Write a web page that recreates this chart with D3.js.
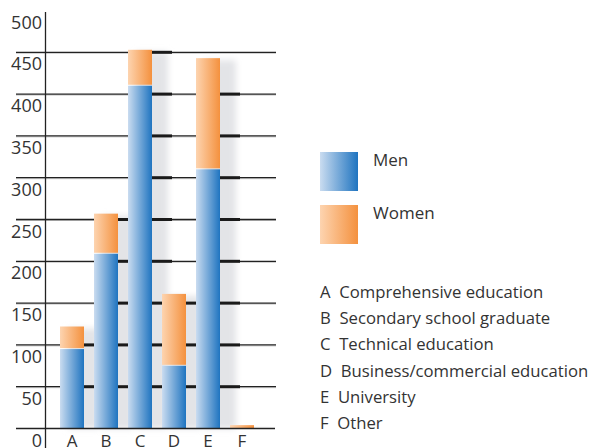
<!DOCTYPE html>
<html>
<head>
<meta charset="utf-8">
<script src="https://cdn.jsdelivr.net/npm/d3@7"></script>
<style>
  html, body { margin: 0; padding: 0; background: #fff; }
  svg { display: block; font-family: "Open Sans", "Noto Sans", sans-serif; }
</style>
</head>
<body>
<svg id="chart" width="592" height="448"></svg>
<script>
// Education level of staff, split by gender
const categories = ["A", "B", "C", "D", "E", "F"];
const men   = [95, 209, 410, 75, 310, 0];
const women = [27, 48, 43, 86, 133, 4];
const yTicks = [0, 50, 100, 150, 200, 250, 300, 350, 400, 450, 500];
const seriesNames = ["Men", "Women"];
const categoryNames = [
  "Comprehensive education",
  "Secondary school graduate",
  "Technical education",
  "Business/commercial education",
  "University",
  "Other"
];

const svg = d3.select("#chart");
const textColor = "#333";

const y = d3.scaleLinear().domain([0, 500]).range([428.5, 10.5]);
const x = d3.scaleBand().domain(categories).range([55, 259])
  .paddingInner(10 / 34).paddingOuter(5 / 34);

const defs = svg.append("defs");
function hGrad(id, c0, c1) {
  const g = defs.append("linearGradient").attr("id", id)
    .attr("x1", "0%").attr("x2", "100%").attr("y1", "0%").attr("y2", "0%");
  g.append("stop").attr("offset", "0%").attr("stop-color", c0);
  g.append("stop").attr("offset", "100%").attr("stop-color", c1);
}
hGrad("gMen", "#cadcf0", "#1f74c0");
hGrad("gWomen", "#fdd4b0", "#f4913e");
defs.append("filter").attr("id", "soft")
  .attr("x", "-50%").attr("y", "-20%").attr("width", "200%").attr("height", "140%")
  .append("feGaussianBlur").attr("stdDeviation", 3);

const totals = categories.map((c, i) => men[i] + women[i]);

// soft shadows to the right of each bar
svg.append("g").selectAll("rect").data(categories).join("rect")
  .attr("x", d => x(d) + 8)
  .attr("y", (d, i) => y(totals[i]) + 2)
  .attr("width", x.bandwidth() + 8)
  .attr("height", (d, i) => Math.max(0, y(0) - y(totals[i]) - 2))
  .attr("fill", "#e3e4e7")
  .attr("filter", "url(#soft)");

// grid lines
const grid = svg.append("g");
const gridVals = yTicks.filter(v => v > 0 && v < 500);
grid.selectAll("line.light").data(gridVals).join("line")
  .attr("class", "light")
  .attr("x1", 16).attr("x2", 276)
  .attr("y1", d => y(d) + 1).attr("y2", d => y(d) + 1)
  .attr("stroke", "#c8c8c8").attr("stroke-width", 1);
grid.selectAll("line.main").data(gridVals).join("line")
  .attr("class", "main")
  .attr("x1", 16).attr("x2", 276)
  .attr("y1", d => y(d)).attr("y2", d => y(d))
  .attr("stroke", "#222").attr("stroke-width", 1.3);

// heavier grid segments where lines cross a bar's shadow
const heavy = [];
categories.forEach((c, i) => {
  gridVals.forEach(v => { if (v <= totals[i]) heavy.push({ c, v }); });
});
grid.selectAll("line.heavy").data(heavy).join("line")
  .attr("class", "heavy")
  .attr("x1", d => x(d.c) + x.bandwidth())
  .attr("x2", d => x(d.c) + x.bandwidth() + 20)
  .attr("y1", d => y(d.v)).attr("y2", d => y(d.v))
  .attr("stroke", "#1a1a1a").attr("stroke-width", 3);

// stacked bars
const bars = svg.append("g");
bars.selectAll("rect.men").data(categories).join("rect")
  .attr("class", "men")
  .attr("x", d => x(d))
  .attr("y", (d, i) => y(men[i]))
  .attr("width", x.bandwidth())
  .attr("height", (d, i) => y(0) - y(men[i]))
  .attr("fill", "url(#gMen)");
bars.selectAll("rect.women").data(categories).join("rect")
  .attr("class", "women")
  .attr("x", d => x(d))
  .attr("y", (d, i) => y(totals[i]))
  .attr("width", x.bandwidth())
  .attr("height", (d, i) => Math.max(0, y(men[i]) - y(totals[i]) - (men[i] > 0 ? 1 : 0)))
  .attr("fill", "url(#gWomen)");

// baseline
svg.append("line")
  .attr("x1", 16).attr("x2", 275)
  .attr("y1", y(0)).attr("y2", y(0))
  .attr("stroke", "#222").attr("stroke-width", 1.3);

// value axis
svg.append("line")
  .attr("x1", 45.5).attr("x2", 45.5)
  .attr("y1", 12).attr("y2", 448)
  .attr("stroke", "#222").attr("stroke-width", 1.3);
svg.append("g").selectAll("text").data(yTicks).join("text")
  .attr("x", 42)
  .attr("y", d => y(d) + 18)
  .attr("text-anchor", "end")
  .attr("fill", textColor)
  .attr("font-size", 18)
  .text(d => d);

// category letters
svg.append("g").selectAll("text").data(categories).join("text")
  .attr("x", d => x(d) + x.bandwidth() / 2)
  .attr("y", y(0) + 18)
  .attr("text-anchor", "middle")
  .attr("fill", textColor)
  .attr("font-size", 17)
  .text(d => d);

// series legend
const legend = svg.append("g");
const legendFills = ["url(#gMen)", "url(#gWomen)"];
seriesNames.forEach((name, i) => {
  const top = 152 + i * 53;
  legend.append("rect")
    .attr("x", 320).attr("y", top).attr("width", 38).attr("height", 39)
    .attr("fill", legendFills[i]);
  legend.append("text")
    .attr("x", 373).attr("y", top + 14)
    .attr("fill", textColor).attr("font-size", 17)
    .text(name);
});

// category key
svg.append("g").selectAll("text").data(categories).join("text")
  .attr("x", 320)
  .attr("y", (d, i) => 298 + i * 26.2)
  .attr("fill", textColor)
  .attr("font-size", 16.7)
  .text((d, i) => d + "  " + categoryNames[i])
  .attr("xml:space", "preserve");
</script>
</body>
</html>
